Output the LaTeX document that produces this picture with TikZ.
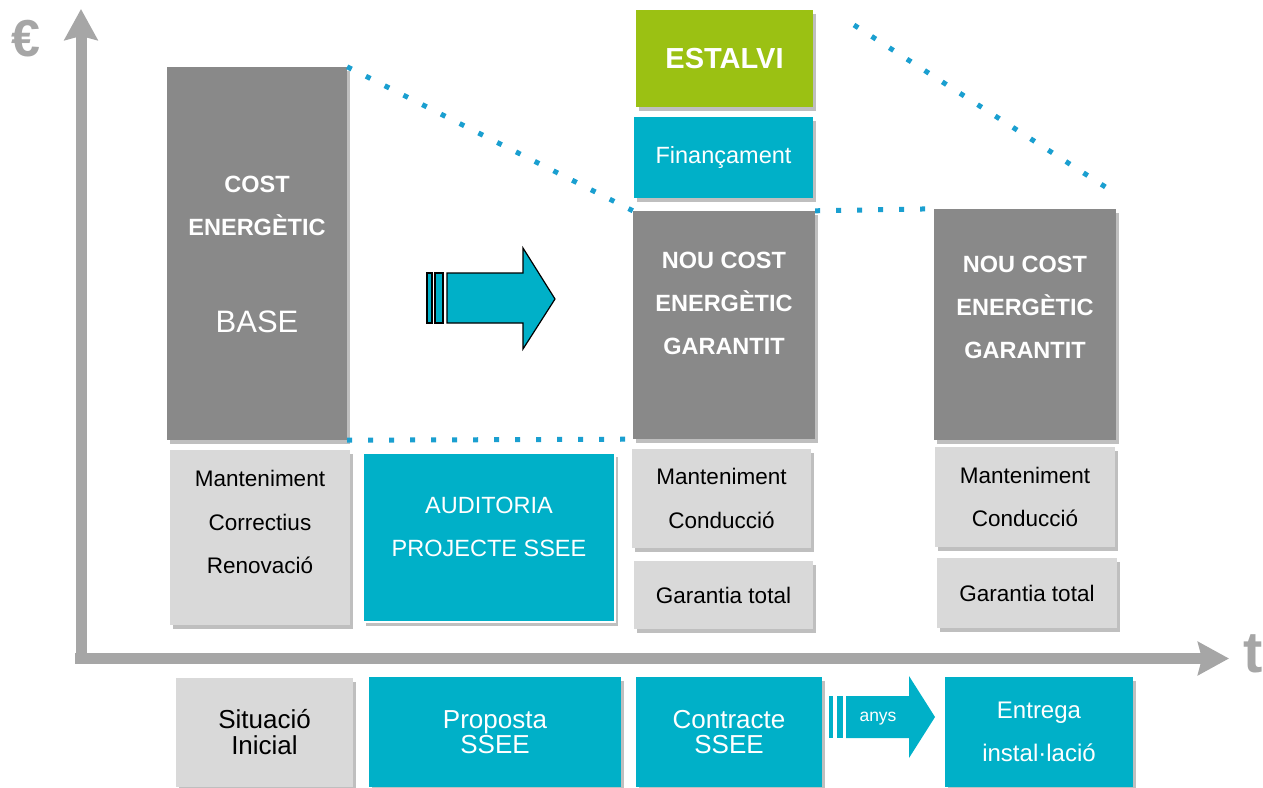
\documentclass[tikz,border=0pt]{standalone}
\usepackage{fontspec}
\setmainfont{Liberation Sans}
\usetikzlibrary{arrows.meta,shadows}
\definecolor{costgrey}{HTML}{898989}
\definecolor{lightgrey}{HTML}{D9D9D9}
\definecolor{tealc}{HTML}{00B0C8}
\definecolor{savgreen}{HTML}{9BC113}
\definecolor{axisgrey}{HTML}{A6A6A6}
\definecolor{dotblue}{HTML}{1A9FD0}
\newcommand{\fsz}[2]{\fontsize{#1}{#2}\selectfont}
\newcommand{\NouCost}{NOU COST\\ENERGÈTIC\\GARANTIT}
\newcommand{\MantCond}{Manteniment\\Conducció}
\tikzset{
    box/.style={inner sep=0pt, align=center,
        drop shadow={shadow xshift=3pt, shadow yshift=-4pt, opacity=.25, fill=black}},
    costbox/.style={box, fill=costgrey, text=white, font=\bfseries\fsz{23.5}{43}},
    lightbox/.style={box, fill=lightgrey, text=black, font=\fsz{22.5}{43.5}},
    tealbox/.style={box, fill=tealc, text=white, font=\fsz{23.5}{43}},
    boxtext/.style={inner sep=0pt, align=center},
    dotline/.style={draw=dotblue, line width=5pt, dash pattern=on 5pt off 16pt},
    axisline/.style={draw=axisgrey, line width=11pt, -{Stealth[length=31pt,width=33pt,inset=4pt]}},
    shaft/.style={fill=tealc, draw=black, line width=1.2pt},
}

\begin{document}
\begin{tikzpicture}[x=1pt, y=-1pt]
    \useasboundingbox (0,0) rectangle (1263,787);
    % axes
    \coordinate (origin) at (81,664);
    \coordinate (ytop) at (81,9);
    \coordinate (xleft) at (75,658.5);
    \coordinate (xright) at (1229,658.5);
    \draw[axisline] (origin) -- (ytop);
    \draw[axisline] (xleft) -- (xright);
    \node[inner sep=0pt, anchor=base west, text=axisgrey, font=\bfseries\fsz{52}{52}] (eur) at (11,56) {€};
    \node[inner sep=0pt, anchor=base west, text=axisgrey, font=\bfseries\fsz{58}{58}] (tlab) at (1243,672) {t};

    % situacio inicial
    \node[costbox, minimum width=180pt, minimum height=373pt] (base) at (257,253.5) {};
    \node[boxtext, text=white, font=\bfseries\fsz{23.5}{43}] (base-t) at (257,205.5) {COST\\ENERGÈTIC};
    \node[boxtext, text=white, font=\fsz{31}{31}] (base-b) at (257,322) {BASE};
    \node[lightbox, minimum width=180pt, minimum height=175pt] (mant1) at (260,537.5) {};
    \node[boxtext, font=\fsz{22.5}{43.5}] (mant1-t) at (260,522) {Manteniment\\Correctius\\Renovació};
    \node[tealbox, draw=white, line width=1.5pt, minimum width=252pt, minimum height=169pt] (audit) at (489,537.5) {};
    \node[boxtext, text=white, font=\fsz{23.5}{43}] (audit-t) at (489,526.5) {AUDITORIA\\PROJECTE SSEE};

    % proposta
    \node[box, fill=savgreen, text=white, font=\bfseries\fsz{29}{29}, minimum width=177pt, minimum height=97pt] (estalvi) at (724.5,58.5) {ESTALVI};
    \node[tealbox, minimum width=179pt, minimum height=81pt] (fin) at (723.5,157.5) {Finançament};
    \node[costbox, minimum width=182pt, minimum height=228pt] (nou1) at (724,325) {};
    \node[boxtext, text=white, font=\bfseries\fsz{23.5}{43}] (nou1-t) at (724,303) {\NouCost};
    \node[lightbox, minimum width=179pt, minimum height=99pt] (mant2) at (721.5,498.5) {\MantCond};
    \node[lightbox, minimum width=179pt, minimum height=68pt] (gar1) at (723.5,595) {Garantia total};

    % entrega
    \node[costbox, minimum width=182pt, minimum height=231pt] (nou2) at (1025,324.5) {};
    \node[boxtext, text=white, font=\bfseries\fsz{23.5}{43}] (nou2-t) at (1025,307) {\NouCost};
    \node[lightbox, minimum width=180pt, minimum height=100pt] (mant3) at (1025,497) {\MantCond};
    \node[lightbox, minimum width=180pt, minimum height=70pt] (gar2) at (1027,593) {Garantia total};

    % dotted guides
    \coordinate (sav-a) at (854,25);
    \coordinate (sav-b) at (1107,188);
    \draw[dotline] (base.north east) -- (nou1.north west);
    \draw[dotline] (base.south east) -- (nou1.south west);
    \draw[dotline] (nou1.north east) -- (nou2.north west);
    \draw[dotline] (sav-a) -- (sav-b);

    % big arrow
    \draw[shaft] (427,273) rectangle (432,323);
    \draw[shaft] (435,273) rectangle (443,323);
    \draw[shaft] (447,273) -- (523,273) -- (523,248) -- (555,299) -- (523,349) -- (523,323) -- (447,323) -- cycle;

    % time line
    \node[lightbox, font=\fsz{26}{26}, minimum width=177pt, minimum height=109pt] (sit) at (264.5,732.5) {Situació\\Inicial};
    \node[tealbox, font=\fsz{26}{25.5}, minimum width=252pt, minimum height=110pt] (prop) at (495,732) {Proposta\\SSEE};
    \node[tealbox, font=\fsz{26}{25.5}, minimum width=186pt, minimum height=110pt] (contr) at (729,732) {Contracte\\SSEE};
    \node[tealbox, font=\fsz{24}{43}, minimum width=188pt, minimum height=110pt] (entr) at (1039,732) {Entrega\\instal·lació};
    \fill[tealc] (829,696) rectangle (833,738);
    \fill[tealc] (837,696) rectangle (843,738);
    \fill[tealc] (846,696) -- (909,696) -- (909,676) -- (935,717) -- (909,758) -- (909,738) -- (846,738) -- cycle;
    \node[inner sep=0pt, text=white, font=\fsz{17.5}{17.5}] (anys) at (878,719) {anys};
\end{tikzpicture}
\end{document}
